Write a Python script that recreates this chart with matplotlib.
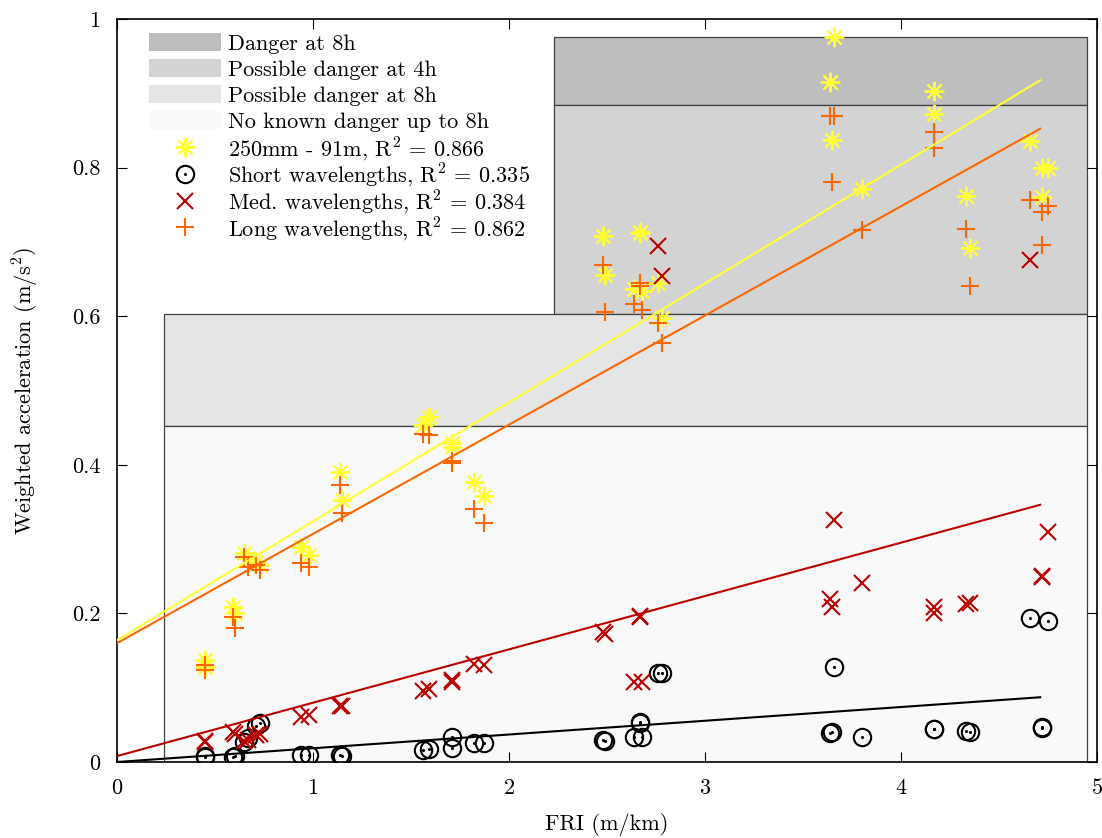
import numpy as np
import matplotlib
matplotlib.use("Agg")
import matplotlib.pyplot as plt
from matplotlib.patches import Rectangle, Patch
from matplotlib.lines import Line2D
from matplotlib.legend_handler import HandlerTuple

plt.rcParams['font.family'] = ['cmr10', 'DejaVu Serif']
plt.rcParams['mathtext.fontset'] = 'cm'
plt.rcParams['axes.unicode_minus'] = False

# ---- data ----
fri = [0.45, 0.45,
       0.59, 0.60,
       0.65, 0.67, 0.71, 0.73,
       0.94, 0.98,
       1.14, 1.15,
       1.56, 1.59,
       1.71, 1.71,
       1.82, 1.87,
       2.48, 2.49,
       2.67, 2.67, 2.64, 2.68, 2.76, 2.78,
       3.66, 3.64, 3.65,
       3.80,
       4.17, 4.17,
       4.33, 4.35,
       4.66, 4.75, 4.72, 4.72]

acc_250mm_91m = [0.137, 0.128,
                 0.209, 0.200,
                 0.281, 0.275, 0.269, 0.265,
                 0.289, 0.279,
                 0.390, 0.353,
                 0.454, 0.465,
                 0.430, 0.424,
                 0.377, 0.358,
                 0.708, 0.656,
                 0.712, 0.714, 0.636, 0.634, 0.645, 0.598,
                 0.976, 0.915, 0.837,
                 0.771,
                 0.903, 0.872,
                 0.762, 0.692,
                 0.836, 0.800, 0.800, 0.760]

acc_short = [0.008, 0.007,
             0.007, 0.008,
             0.027, 0.032, 0.048, 0.052,
             0.009, 0.009,
             0.009, 0.008,
             0.016, 0.017,
             0.034, 0.019,
             0.026, 0.025,
             0.029, 0.028,
             0.052, 0.054, 0.034, 0.034, 0.120, 0.120,
             0.128, 0.039, 0.040,
             0.034,
             0.045, 0.044,
             0.042, 0.041,
             0.194, 0.190, 0.046, 0.047]

acc_med = [0.028, 0.027,
           0.040, 0.038,
           0.028, 0.030, 0.036, 0.038,
           0.060, 0.063,
           0.076, 0.075,
           0.096, 0.098,
           0.110, 0.108,
           0.132, 0.131,
           0.175, 0.172,
           0.195, 0.197, 0.108, 0.108, 0.694, 0.654,
           0.326, 0.219, 0.209,
           0.241,
           0.209, 0.201,
           0.213, 0.214,
           0.676, 0.310, 0.249, 0.251]

acc_long = [0.131, 0.124,
            0.195, 0.181,
            0.276, 0.262, 0.265, 0.258,
            0.268, 0.262,
            0.373, 0.335,
            0.441, 0.440,
            0.405, 0.402,
            0.340, 0.321,
            0.669, 0.606,
            0.645, 0.640, 0.616, 0.608, 0.591, 0.564,
            0.869, 0.869, 0.781,
            0.716,
            0.848, 0.826,
            0.717, 0.640,
            0.756, 0.748, 0.740, 0.696]

# linear fits: (intercept, slope)
fit_250mm = (0.164, 0.160)
fit_short = (0.000, 0.0185)
fit_med = (0.008, 0.0718)
fit_long = (0.160, 0.147)
fit_x_range = (0.0, 4.71)

# danger zones: (x0, x1, y0, y1)
zone_labels = ['Danger at 8h', 'Possible danger at 4h',
               'Possible danger at 8h', 'No known danger up to 8h']
zone_bounds = [(2.23, 4.95, 0.884, 0.976),
               (2.23, 4.95, 0.603, 0.884),
               (0.24, 4.95, 0.452, 0.603),
               (0.24, 4.95, 0.000, 0.452)]
zone_colors = ['#bebebe', '#d3d3d3', '#e5e5e5', '#f9f9f9']

series_labels = ['250mm - 91m, R$^2$ = 0.866',
                 'Short wavelengths, R$^2$ = 0.335',
                 'Med. wavelengths, R$^2$ = 0.384',
                 'Long wavelengths, R$^2$ = 0.862']

xticks = [0, 1, 2, 3, 4, 5]
xtick_labels = ['0', '1', '2', '3', '4', '5']
yticks = [0, 0.2, 0.4, 0.6, 0.8, 1.0]
ytick_labels = ['0', '0.2', '0.4', '0.6', '0.8', '1']

c_yellow = '#ffff33'
c_orange = '#ff6600'
c_red = '#bb0000'
c_black = '#000000'

FS = 16

fig = plt.figure(figsize=(11.02, 8.38), dpi=100)
ax = fig.add_axes([0.1062, 0.0907, 0.8893, 0.8866])

for (x0, x1, y0, y1), col in zip(zone_bounds, zone_colors):
    ax.add_patch(Rectangle((x0, y0), x1 - x0, y1 - y0, facecolor=col,
                           edgecolor='#404040', linewidth=0.9, zorder=1))

x_arr = np.array(fri)
ax.plot(x_arr, acc_250mm_91m, linestyle='none', marker=(8, 2, 0),
        markersize=14, markeredgewidth=1.4, color=c_yellow, zorder=3)
ax.plot(x_arr, acc_short, linestyle='none', marker='o', markersize=12.5,
        markerfacecolor='none', markeredgewidth=1.5, color=c_black, zorder=3)
ax.plot(x_arr, acc_short, linestyle='none', marker='.', markersize=2.5,
        color=c_black, zorder=3)
ax.plot(x_arr, acc_med, linestyle='none', marker='x', markersize=11,
        markeredgewidth=1.5, color=c_red, zorder=3)
ax.plot(x_arr, acc_long, linestyle='none', marker='+', markersize=13,
        markeredgewidth=1.5, color=c_orange, zorder=3)

xf = np.linspace(fit_x_range[0], fit_x_range[1], 2)
for (b, m), col in [(fit_250mm, c_yellow), (fit_short, c_black),
                    (fit_med, c_red), (fit_long, c_orange)]:
    ax.plot(xf, b + m * xf, color=col, linewidth=1.5, zorder=4)

ax.set_xlim(0, 5)
ax.set_ylim(0, 1)
ax.set_xticks(xticks)
ax.set_xticklabels(xtick_labels)
ax.set_yticks(yticks)
ax.set_yticklabels(ytick_labels)
ax.tick_params(direction='in', top=True, right=True, length=7, width=0.8,
               labelsize=FS, pad=12)
for s in ax.spines.values():
    s.set_linewidth(1.2)

ax.set_xlabel('FRI (m/km)', fontsize=FS, labelpad=11)
ax.set_ylabel('Weighted acceleration (m/s$^2$)', fontsize=FS, labelpad=22)

# legend part 1: zones
zone_handles = [Patch(facecolor=c, edgecolor='none') for c in zone_colors]
leg1 = ax.legend(zone_handles, zone_labels, loc='upper left', frameon=False,
                 bbox_to_anchor=(0.024, 0.993), fontsize=FS,
                 handlelength=3.2, handleheight=0.85, handletextpad=0.35,
                 labelspacing=0.245, borderaxespad=0.0)
ax.add_artist(leg1)

# legend part 2: series
star_h = Line2D([], [], linestyle='none', marker=(8, 2, 0), markersize=14,
                markeredgewidth=1.4, color=c_yellow)
circ_h = (Line2D([], [], linestyle='none', marker='o', markersize=12.5,
                 markerfacecolor='none', markeredgewidth=1.5, color=c_black),
          Line2D([], [], linestyle='none', marker='.', markersize=2.5,
                 color=c_black))
med_h = Line2D([], [], linestyle='none', marker='x', markersize=11,
               markeredgewidth=1.5, color=c_red)
long_h = Line2D([], [], linestyle='none', marker='+', markersize=13,
                markeredgewidth=1.5, color=c_orange)
leg2 = ax.legend([star_h, circ_h, med_h, long_h], series_labels,
                 loc='upper left', frameon=False,
                 bbox_to_anchor=(0.024, 0.856), fontsize=FS,
                 handlelength=3.2, handleheight=0.85, handletextpad=0.35,
                 labelspacing=-0.05, borderaxespad=0.0,
                 handler_map={tuple: HandlerTuple(ndivide=1, pad=0)})

fig.savefig('out.png', dpi=100)
